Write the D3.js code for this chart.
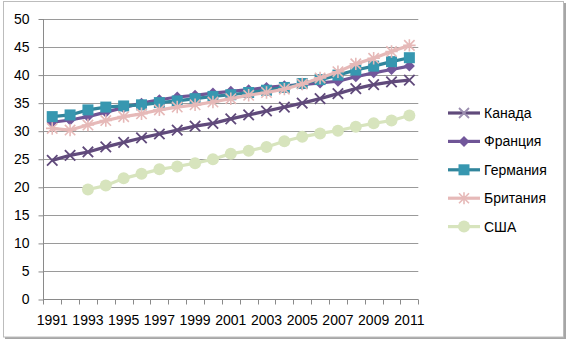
<!DOCTYPE html>
<html><head><meta charset="utf-8">
<script src="https://cdn.jsdelivr.net/npm/d3@7/dist/d3.min.js"></script>
<style>body{margin:0;background:#fff}svg{display:block}text{font-family:"Liberation Sans",Arial,sans-serif;fill:#000}</style>
</head><body><svg id="c" width="567" height="340"></svg>
<script>
const years = d3.range(1991, 2012).map(String);
const yTicks = [0,5,10,15,20,25,30,35,40,45,50];
const xLabels = ["1991","1993","1995","1997","1999","2001","2003","2005","2007","2009","2011"];
const seriesNames = ["Канада","Франция","Германия","Британия","США"];
const canada  = [24.8,25.7,26.3,27.2,28.0,28.8,29.5,30.2,30.9,31.4,32.2,32.9,33.6,34.3,35.0,35.8,36.7,37.6,38.3,38.8,39.1];
const france  = [31.6,32.0,32.6,33.4,34.2,35.0,35.6,36.1,36.4,36.8,37.1,37.4,37.8,38.1,38.3,38.6,38.9,39.7,40.4,41.0,41.6];
const germany = [32.6,32.9,33.8,34.3,34.5,34.7,35.1,35.4,35.8,36.2,36.5,36.9,37.3,37.8,38.5,39.2,40.0,40.9,41.6,42.4,43.1];
const britain = [30.5,30.2,31.1,31.9,32.6,33.1,33.8,34.3,34.7,35.2,35.8,36.4,36.9,37.5,38.4,39.5,40.6,42.0,43.0,44.2,45.3];
const usa     = [null,null,19.6,20.3,21.6,22.4,23.2,23.7,24.3,25.0,26.0,26.5,27.2,28.2,29.0,29.6,30.1,30.8,31.4,31.9,32.8];

const svg = d3.select("#c");
// border
svg.append("rect").attr("x",5).attr("y",3).attr("width",561).attr("height",336).attr("fill","#a6a6a6");
svg.append("rect").attr("x",3.5).attr("y",1.5).attr("width",560).attr("height",335.5).attr("fill","#fff").attr("stroke","#bcbcbc");

const x = d3.scaleBand().domain(years).range([43.3, 418.3]).padding(0);
const y = d3.scaleLinear().domain([0,50]).range([299.5, 19]);
const cx = d => x(d) + x.bandwidth()/2;

// gridlines
svg.append("g").selectAll("line").data(yTicks.slice(1)).join("line")
  .attr("x1",43.3).attr("x2",418.3).attr("y1",d=>Math.round(y(d))+0.5).attr("y2",d=>Math.round(y(d))+0.5)
  .attr("stroke","#9a9a9a").attr("stroke-width",1);

// y axis
const ya = svg.append("g").attr("transform","translate(43.5,0)")
  .call(d3.axisLeft(y).tickValues(yTicks).tickSize(5).tickPadding(9).tickFormat(d3.format("d")));
ya.select(".domain").attr("stroke","#8a8a8a").attr("d","M0,19V300");
ya.selectAll(".tick line").attr("stroke","#8a8a8a");
ya.selectAll(".tick text").attr("font-size","14px").attr("font-family","Liberation Sans, Arial, sans-serif").attr("fill","#000").attr("dy","0.3em");

// x axis
const xa = svg.append("g").attr("transform","translate(0,299.5)")
  .call(d3.axisBottom(x).tickValues(xLabels).tickSize(0).tickPadding(16));
xa.select(".domain").attr("stroke","#8a8a8a").attr("d","M43.3,0H418.3");
xa.selectAll(".tick text").attr("font-size","14px").attr("font-family","Liberation Sans, Arial, sans-serif").attr("fill","#000");
const bounds = years.map(d=>x(d)).concat([x.range()[1]]);
xa.append("g").selectAll("line").data(bounds).join("line")
  .attr("x1",d=>Math.round(d)+0.5).attr("x2",d=>Math.round(d)+0.5).attr("y1",0).attr("y2",5).attr("stroke","#8a8a8a");

const series = [
  {name:"Канада", vals:canada, line:"#604a7b", fill:"#604a7b", marker:"x"},
  {name:"Франция", vals:france, line:"#6f5596", fill:"#72579b", marker:"diamond"},
  {name:"Германия", vals:germany, line:"#31859c", fill:"#3797b0", marker:"square"},
  {name:"Британия", vals:britain, line:"#e6b9b8", fill:"#e6b9b8", marker:"star"},
  {name:"США", vals:usa, line:"#d7e4bd", fill:"#d7e4bd", marker:"circle"}
];

function drawMarker(g, type, color, fill, s) {
  if (type==="x") {
    g.append("path").attr("d",`M${-s},${-s}L${s},${s}M${-s},${s}L${s},${-s}`).attr("stroke",color).attr("stroke-width",1.8).attr("fill","none");
  } else if (type==="diamond") {
    g.append("path").attr("d",`M0,${-s}L${s},0L0,${s}L${-s},0Z`).attr("fill",fill);
  } else if (type==="square") {
    g.append("rect").attr("x",-s).attr("y",-s).attr("width",2*s).attr("height",2*s).attr("fill",fill);
  } else if (type==="star") {
    g.append("path").attr("d",`M${-s},${-s}L${s},${s}M${-s},${s}L${s},${-s}M0,${-s*1.2}L0,${s*1.2}M${-s*1.2},0L${s*1.2},0`).attr("stroke",color).attr("stroke-width",1.6).attr("fill","none");
  } else if (type==="circle") {
    g.append("circle").attr("r",s).attr("fill",fill);
  }
}
const sizes = {x:5.2, diamond:5.5, square:5.5, star:5.2, circle:6};

const line = d3.line().defined(d=>d.v!=null).x(d=>cx(d.year)).y(d=>y(d.v));
series.forEach(s=>{
  const data = years.map((yr,i)=>({year:yr, v:s.vals[i]}));
  const g = svg.append("g");
  g.append("path").datum(data).attr("d",line).attr("fill","none").attr("stroke",s.line).attr("stroke-width",3.2).attr("stroke-linejoin","round");
  g.selectAll("g").data(data.filter(d=>d.v!=null)).join("g")
    .attr("transform",d=>`translate(${cx(d.year)},${y(d.v)})`)
    .each(function(){ drawMarker(d3.select(this), s.marker, s.line, s.fill, sizes[s.marker]); });
});

// legend
const leg = svg.append("g");
series.forEach((s,i)=>{
  const ly = 113 + i*28.4;
  const g = leg.append("g").attr("transform",`translate(0,${ly})`);
  g.append("line").attr("x1",448).attr("x2",480).attr("y1",0).attr("y2",0).attr("stroke",s.line).attr("stroke-width",3.2);
  const m = g.append("g").attr("transform","translate(464,0)");
  drawMarker(m, s.marker, s.marker==="x"?"#9c8fb0":s.line, s.fill, s.marker==="x"||s.marker==="star"?5:sizes[s.marker]);
  g.append("text").attr("x",484).attr("y",0).attr("dy","0.36em").attr("font-size","14px").text(s.name);
});
</script></body></html>
